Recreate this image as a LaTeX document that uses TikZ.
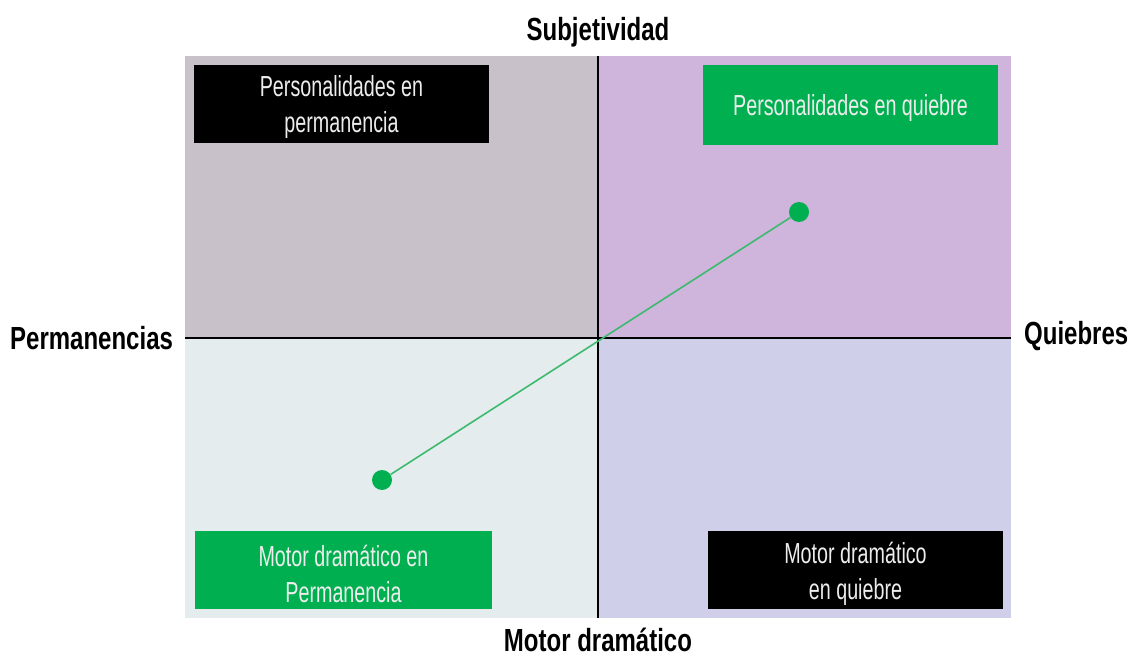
\documentclass[tikz,border=0pt]{standalone}
\usepackage{fontspec}
\newfontfamily\condfont[FakeStretch=0.68]{Liberation Sans}
\newfontfamily\condbold[FakeStretch=0.75]{Liberation Sans Bold}
\definecolor{qtl}{HTML}{C8C1C9}
\definecolor{qtr}{HTML}{CFB4DC}
\definecolor{qbl}{HTML}{E4ECEE}
\definecolor{qbr}{HTML}{CFCFEA}
\definecolor{grn}{HTML}{00B050}
\definecolor{lgrn}{HTML}{3DBA6E}
\definecolor{boxtxt}{HTML}{EDEDED}
\tikzset{
  box/.style={rectangle, inner sep=0pt, minimum width=295pt, minimum height=78pt},
  blackbox/.style={box, fill=black},
  greenbox/.style={box, fill=grn},
  boxtext/.style={align=center, inner sep=0pt, font=\condfont\fontsize{29}{36}\selectfont, text=boxtxt},
  axislabel/.style={font=\condbold\fontsize{32}{36}\selectfont, text=black, inner sep=0pt},
  axisline/.style={draw=black, line width=2pt},
  dot/.style={circle, fill=grn, inner sep=0pt, minimum size=20pt},
  link/.style={draw=lgrn, line width=1.6pt}
}
\begin{document}
\begin{tikzpicture}[x=1pt,y=-1pt]
\useasboundingbox (0,0) rectangle (1133,658);
% quadrants
\fill[qtl] (185,56) rectangle (598,338);
\fill[qtr] (598,56) rectangle (1011,338);
\fill[qbl] (185,338) rectangle (598,618);
\fill[qbr] (598,338) rectangle (1011,618);
% axes
\coordinate (ytop) at (598,56);
\coordinate (ybot) at (598,618);
\coordinate (xl) at (185,338);
\coordinate (xr) at (1011,338);
\draw[axisline] (ytop) -- (ybot);
\draw[axisline] (xl) -- (xr);
% boxes
\node[blackbox] (tl) at (341.5,104) {};
\node[boxtext] (tlt) at ([yshift=-3.5pt]tl.center) {Personalidades en\\permanencia};
\node[greenbox, minimum height=80pt] (tr) at (850.5,105) {};
\node[boxtext] (trt) at ([yshift=-3.5pt]tr.center) {Personalidades en quiebre};
\node[greenbox, minimum width=297pt] (bl) at (343.5,570) {};
\node[boxtext] (blt) at ([yshift=-3.5pt]bl.center) {Motor dramático en\\Permanencia};
\node[blackbox] (br) at (855.5,570) {};
\node[boxtext] (brt) at ([yshift=-3.5pt]br.center) {Motor dramático\\en quiebre};
% axis labels
\node[axislabel] (sub) at (598,32) {Subjetividad};
\node[axislabel, anchor=base] (mot) at (598,651) {Motor dramático};
\node[axislabel, anchor=west] (perm) at (10,338) {Permanencias};
\node[axislabel, anchor=west] (qui) at (1024,336) {Quiebres};
% dots and link
\node[dot] (p1) at (382,480) {};
\node[dot] (p2) at (799,212) {};
\draw[link] (p1) -- (p2);
\end{tikzpicture}
\end{document}
